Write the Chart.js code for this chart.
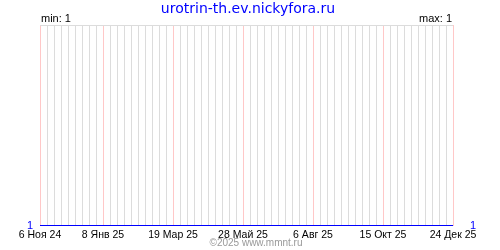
<!DOCTYPE html>
<html>
<head>
    <meta charset="utf-8">
    <script src="https://cdn.jsdelivr.net/npm/chart.js@4.4.1/dist/chart.umd.min.js"></script>
    <title>urotrin-th.ev.nickyfora.ru</title>
    <style>
        html, body { margin: 0; padding: 0; background: #fff; }
        #wrap { width: 500px; height: 250px; }
    </style>
</head>
<body>
<div id="wrap"><canvas id="chart" width="500" height="250"></canvas></div>
<script>
    // days counted from 6 Nov 2024
    const dayOffsets = [0, 413];
    const values = [1, 1];
    const labelDays = [0, 63, 133, 203, 273, 343, 413];
    const tickLabels = ['6 Ноя 24', '8 Янв 25', '19 Мар 25', '28 Май 25', '6 Авг 25', '15 Окт 25', '24 Дек 25'];
    const titleText = 'urotrin-th.ev.nickyfora.ru';
    const minText = 'min: 1';
    const maxText = 'max: 1';
    const footerText = '©2025 www.mmnt.ru';

    const points = [];
    for (let i = 0; i < dayOffsets.length; i++) {
        points.push({ x: dayOffsets[i], y: values[i] });
    }

    const textPlugin = {
        id: 'texts',
        afterDraw(chart) {
            const ctx = chart.ctx;
            const a = chart.chartArea;
            ctx.save();
            ctx.textBaseline = 'middle';
            ctx.fillStyle = '#0000ff';
            ctx.font = '14px "DejaVu Sans"';
            ctx.textAlign = 'center';
            ctx.fillText(titleText, 248, 9);
            ctx.fillStyle = '#000';
            ctx.font = '11px "Liberation Sans"';
            ctx.textAlign = 'left';
            ctx.fillText(minText, a.left + 1, 19);
            ctx.textAlign = 'right';
            ctx.fillText(maxText, a.right - 1, 19);
            ctx.fillStyle = '#999';
            ctx.font = '10px "Liberation Sans"';
            ctx.textAlign = 'center';
            ctx.fillText(footerText, 256, 243);
            ctx.restore();
        }
    };

    new Chart(document.getElementById('chart'), {
        type: 'line',
        data: {
            datasets: [{
                data: points,
                borderColor: '#0000ff',
                borderWidth: 1,
                pointRadius: 0,
                clip: false,
                fill: false
            }]
        },
        options: {
            responsive: false,
            animation: false,
            layout: { padding: { top: 25 } },
            plugins: { legend: { display: false }, tooltip: { enabled: false } },
            scales: {
                x: {
                    type: 'linear',
                    min: 0,
                    max: 413,
                    // half pixel so the line at the bottom sits on one row
                    afterFit(s) { s.height = 24.5; },
                    border: { display: false },
                    grid: {
                        drawTicks: false,
                        color: (c) => labelDays.includes(c.tick.value) ? '#ffc8c8' : '#dcdcdc'
                    },
                    ticks: {
                        stepSize: 7,
                        autoSkip: false,
                        maxRotation: 0,
                        padding: 3,
                        color: '#000',
                        font: { family: 'Liberation Sans', size: 10.5 },
                        callback: (v) => {
                            const k = labelDays.indexOf(v);
                            return k >= 0 ? tickLabels[k] : '';
                        }
                    }
                },
                y: {
                    min: 1,
                    max: 2,
                    afterFit(s) { s.width = 40; },
                    border: { display: false },
                    grid: {
                        drawTicks: false,
                        color: (c) => c.tick.value === 2 ? '#dcdcdc' : 'rgba(0,0,0,0)'
                    },
                    ticks: {
                        stepSize: 1,
                        padding: 7,
                        color: '#0000ff',
                        font: { family: 'Liberation Sans', size: 11 },
                        callback: (v) => v === 1 ? '1' : ''
                    }
                },
                y2: {
                    position: 'right',
                    min: 1,
                    max: 2,
                    afterFit(s) { s.width = 47; },
                    border: { display: false },
                    grid: { display: false },
                    ticks: {
                        stepSize: 1,
                        padding: 9,
                        color: '#0000ff',
                        font: { family: 'Liberation Sans', size: 11 },
                        callback: (v) => v === 1 ? '1' : ''
                    }
                }
            }
        },
        plugins: [textPlugin]
    });
</script>
</body>
</html>
